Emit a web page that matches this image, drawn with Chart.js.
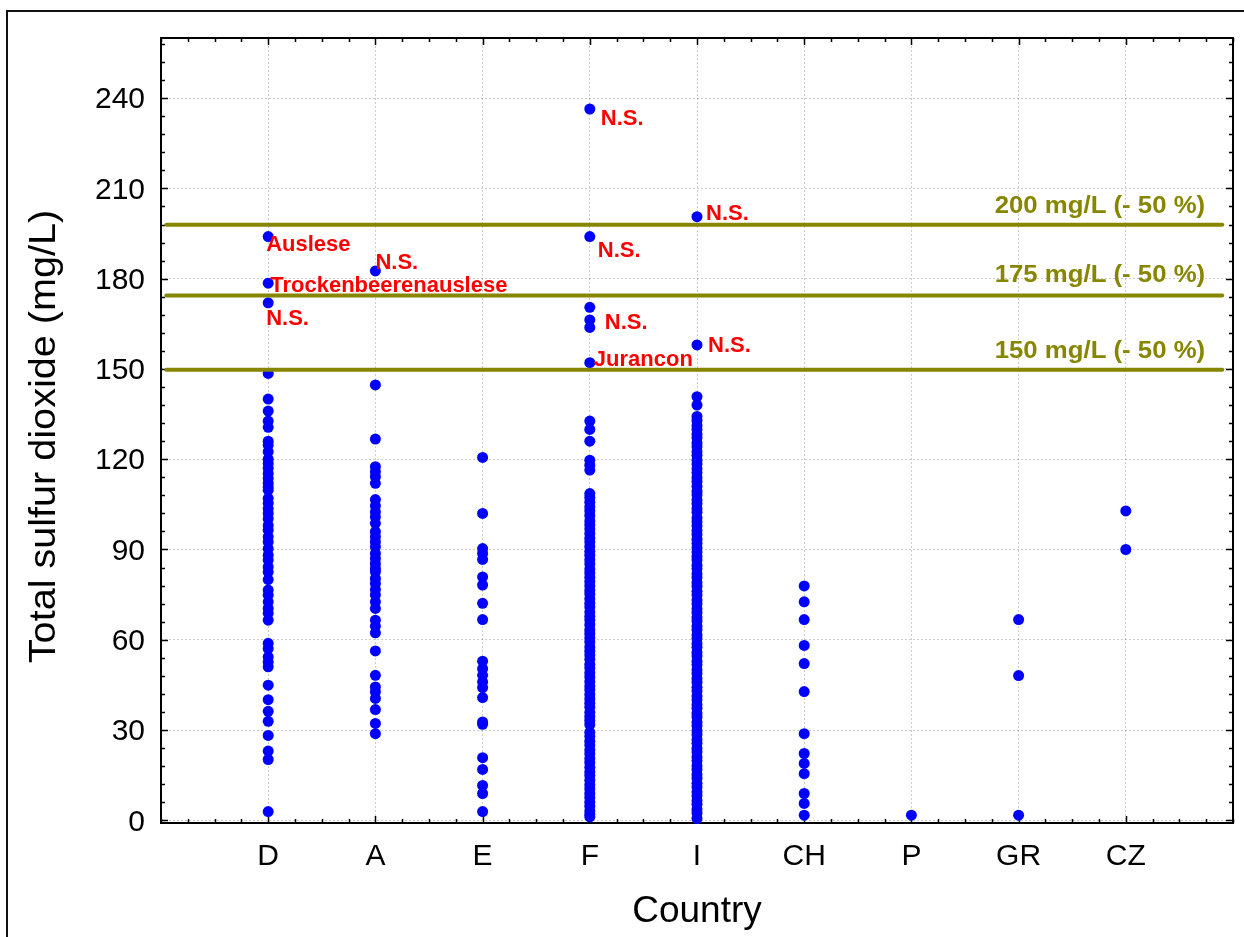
<!DOCTYPE html>
<html><head><meta charset="utf-8">
<script src="https://cdn.jsdelivr.net/npm/chart.js@4"></script>
<style>
html,body{margin:0;padding:0;background:#fff;overflow:hidden;width:1244px;height:937px}
#frame{position:absolute;left:6px;top:10px;width:1400px;height:1100px;border-left:2px solid #111;border-top:2px solid #111}
#wrap{position:absolute;left:0;top:0;width:1244px;height:937px}
</style></head><body>
<div id="frame"></div>
<div id="wrap"><canvas id="c"></canvas></div>
<script>
// ---------- DATA ----------
const categories = ['D','A','E','F','I','CH','P','GR','CZ'];

const valuesD = [194, 178.5, 172, 148.5, 140, 136, 132.7, 130.6, 126, 124.7, 122.5, 120, 118.6, 117, 115.3, 113.6, 112, 110.8, 109.7, 107, 105.4, 103.6, 102, 100.2, 98, 96.4, 94.2, 92.5, 90.3, 88.1, 86.5, 84.2, 82.5, 80, 76.5, 74.8, 72.6, 70.4, 68.8, 66.5, 58.8, 57.1, 54.3, 52.6, 51, 44.9, 40.1, 36.2, 32.9, 28.2, 23, 20.2, 2.9];
const valuesA = [182.6, 144.7, 126.7, 117.5, 115.8, 114.2, 112, 106.6, 104.5, 102.5, 100.8, 98.7, 95.9, 94.2, 92.5, 90.9, 88.7, 87, 85.3, 83.7, 82.6, 80.4, 78.7, 76.7, 74.9, 72.6, 70.4, 66.5, 64.5, 62.3, 56.3, 48.2, 44.3, 42.7, 40.5, 36.8, 32.2, 28.8];
const valuesE = [120.6, 102, 90.3, 88.7, 86.7, 80.9, 78.2, 72.1, 66.7, 52.9, 50.4, 48.2, 46, 44.1, 40.8, 32.7, 31.9, 20.8, 16.9, 11.6, 8.9, 2.9];
const valuesF = [236.4, 194, 170.5, 166.3, 163.8, 152.1, 132.7, 129.9, 126, 119.7, 118, 116.4,
  108.6, 107.3, 105.7, 104.2, 102.9, 101.3, 99.5, 98.2, 96.8, 95.3, 93.7, 92.5, 91.0, 89.4, 88.1, 86.6, 85.2, 83.5, 82.3, 80.8, 79.4, 77.9, 76.4, 75.2, 73.6, 72.1, 70.9, 69.2, 67.8, 66.6, 65.0, 63.3, 62.1, 60.6, 59.3, 57.6, 56.2, 54.9, 53.5, 51.8, 50.6, 49.0, 47.7, 46.1, 44.6, 43.4, 41.8, 40.3, 38.9, 37.6, 35.9, 34.5, 33.2, 31.8, 29.3, 27.9, 26.3, 25.0, 23.4, 22.1, 20.5, 19.2, 17.6, 16.1, 14.9, 13.3, 11.8, 10.5, 8.9, 7.6, 6.0, 4.7, 3.1, 2.0, 1.1];
const valuesI = [200.6, 158, 140.8, 138,
  134.2, 132.9, 131.2, 129.9, 128.3, 127.1, 125.4, 124.2, 122.5, 121.3, 119.7, 118.4, 116.8, 115.5, 113.9, 112.6, 111.0, 109.4, 108.2, 106.5, 105.3, 103.6, 102.4, 100.5, 99.2, 97.9, 96.3, 95.0, 93.4, 92.1, 90.6, 89.2, 87.7, 86.5, 84.8, 83.6, 81.9, 80.7, 79.0, 77.8, 76.1, 74.9, 73.2, 72.0, 70.3, 69.1, 67.4, 66.2, 64.5, 63.3, 61.6, 60.4, 58.7, 57.5, 55.8, 54.6, 52.9, 51.7, 50.0, 48.8, 47.1, 45.9, 44.2, 43.0, 41.3, 40.1, 38.4, 37.2, 35.5, 34.3, 32.6, 31.4, 29.7, 28.5, 26.8, 25.6, 23.9, 22.7, 21.0, 19.8, 18.1, 16.9, 15.2, 14.0, 12.3, 11.1, 9.4, 8.2, 6.5, 5.3, 3.6, 2.4, 0.6];
const valuesCH = [77.9, 72.6, 66.7, 58.1, 52.1, 42.8, 28.8, 22.2, 18.9, 15.5, 8.9, 5.6, 1.7];
const valuesP = [1.7];
const valuesGR = [66.7, 48.1, 1.7];
const valuesCZ = [102.8, 90];
const seriesValues = [valuesD, valuesA, valuesE, valuesF, valuesI, valuesCH, valuesP, valuesGR, valuesCZ];

const yTicks = [0, 30, 60, 90, 120, 150, 180, 210, 240];
const xTitle = 'Country';
const yTitle = 'Total sulfur dioxide (mg/L)';

const limitValues = [197.9, 174.4, 149.7];
const limitLabels = ['200 mg/L (- 50 %)', '175 mg/L (- 50 %)', '150 mg/L (- 50 %)'];

const noteCats   = ['D', 'A', 'D', 'D', 'F', 'I', 'F', 'F', 'I', 'F'];
const noteValues = [194, 182.6, 178.5, 172, 236.4, 200.6, 194, 166.3, 158, 152.1];
const noteTexts  = ['Auslese', 'N.S.', 'Trockenbeerenauslese', 'N.S.', 'N.S.', 'N.S.', 'N.S.', 'N.S.', 'N.S.', 'Jurancon'];

// ---------- STYLE / LAYOUT ----------
const FONT = '"Liberation Sans", Arial, Helvetica, sans-serif';
const OLIVE = '#868600';
const noteOffsets = [[-2,14],[0,-2],[2,9],[-2,22],[11,16],[9,3],[8,20],[15,9],[11,7],[4,3]];
const limitLabelDy = [-12, -14, -12];
const limitX = [0.05, 9.9];
const limitLabelRightX = 9.74;

const datasets = [];
limitValues.forEach(v => {
  datasets.push({
    type: 'line',
    data: [{x: limitX[0], y: v}, {x: limitX[1], y: v}],
    borderColor: OLIVE, borderWidth: 4, borderCapStyle: 'round',
    pointRadius: 0, fill: false, clip: false, tension: 0
  });
});
datasets.push({
  type: 'scatter',
  data: seriesValues.flatMap((arr, i) => arr.map(v => ({x: i + 1, y: v}))),
  backgroundColor: '#0000ff', borderWidth: 0,
  pointRadius: 5.5, pointHoverRadius: 5.5, clip: false
});

const axisBox = {
  id: 'axisBox',
  beforeDatasetsDraw(chart) {
    const {ctx, chartArea: a, scales: {x, y}} = chart;
    ctx.save();
    ctx.strokeStyle = '#000';
    ctx.lineWidth = 2;
    ctx.strokeRect(a.left, a.top, a.right - a.left, a.bottom - a.top);
    ctx.lineWidth = 1.5;
    ctx.beginPath();
    for (let k = 0; k <= 40; k++) {
      const v = k / 4;
      const px = Math.round(x.getPixelForValue(v)) + 0.5;
      const major = (k % 4 === 0) && v >= 1 && v <= 9;
      const len = major ? 7 : 4;
      ctx.moveTo(px, a.bottom); ctx.lineTo(px, a.bottom - len);
      ctx.moveTo(px, a.top); ctx.lineTo(px, a.top + len);
    }
    for (let v = 0; v <= 258; v += 6) {
      const py = Math.round(y.getPixelForValue(v)) + 0.5;
      const len = (v % 30 === 0) ? 7 : 4;
      ctx.moveTo(a.left, py); ctx.lineTo(a.left + len, py);
      ctx.moveTo(a.right, py); ctx.lineTo(a.right - len, py);
    }
    ctx.stroke();
    ctx.restore();
  }
};

const notes = {
  id: 'notes',
  afterDatasetsDraw(chart) {
    const {ctx, chartArea: a, scales: {x, y}} = chart;
    ctx.save();
    ctx.textBaseline = 'alphabetic';
    ctx.textAlign = 'left';
    ctx.fillStyle = '#ff0000';
    ctx.font = 'bold 22px ' + FONT;
    noteTexts.forEach((t, i) => {
      const px = x.getPixelForValue(categories.indexOf(noteCats[i]) + 1);
      const py = y.getPixelForValue(noteValues[i]);
      ctx.fillText(t, px + noteOffsets[i][0], py + noteOffsets[i][1]);
    });
    ctx.fillStyle = OLIVE;
    ctx.font = 'bold 23px ' + FONT;
    ctx.textAlign = 'right';
    limitLabels.forEach((t, i) => {
      const px = x.getPixelForValue(limitLabelRightX);
      const py = y.getPixelForValue(limitValues[i]) + limitLabelDy[i];
      ctx.save();
      ctx.translate(px, py);
      ctx.scale(1.12, 1);
      ctx.fillText(t, 0, 0);
      ctx.restore();
    });
    // y axis title
    ctx.fillStyle = '#000';
    ctx.font = '36px ' + FONT;
    ctx.textAlign = 'center';
    ctx.textBaseline = 'middle';
    ctx.save();
    ctx.translate(45, (a.top + a.bottom) / 2 + 6);
    ctx.rotate(-Math.PI / 2);
    ctx.scale(1.1, 1);
    ctx.fillText(yTitle, 0, 0);
    ctx.restore();
    ctx.restore();
  }
};

new Chart(document.getElementById('c'), {
  type: 'scatter',
  data: {datasets},
  plugins: [axisBox, notes],
  options: {
    responsive: true, maintainAspectRatio: false, animation: false,
    events: [],
    layout: {padding: {left: 0, top: 38, right: 11, bottom: 0}},
    plugins: {legend: {display: false}, tooltip: {enabled: false}},
    scales: {
      x: {
        type: 'linear', min: 0, max: 10,
        afterBuildTicks: s => { s.ticks = categories.map((c, i) => ({value: i + 1})); },
        afterFit: s => { s.height = 114; },
        ticks: {
          callback: v => categories[Math.round(v) - 1] || '',
          font: {family: FONT, size: 30}, color: '#000', padding: 16,
          maxRotation: 0, autoSkip: false
        },
        grid: {color: 'rgba(0,0,0,0.2)', lineWidth: 1, drawTicks: false},
        border: {display: false, dash: [2, 2]},
        title: {display: true, text: xTitle, color: '#000',
          font: {family: FONT, size: 37}, padding: {top: 0, bottom: 3}}
      },
      y: {
        type: 'linear', min: -0.9, max: 260,
        afterBuildTicks: s => { s.ticks = yTicks.map(v => ({value: v})); },
        afterFit: s => { s.width = 161; },
        ticks: {font: {family: FONT, size: 30}, color: '#000', padding: 16, labelOffset: 2},
        grid: {color: 'rgba(0,0,0,0.2)', lineWidth: 1, drawTicks: false},
        border: {display: false, dash: [2, 2]},
        title: {display: false}
      }
    }
  }
});
</script>
</body></html>
